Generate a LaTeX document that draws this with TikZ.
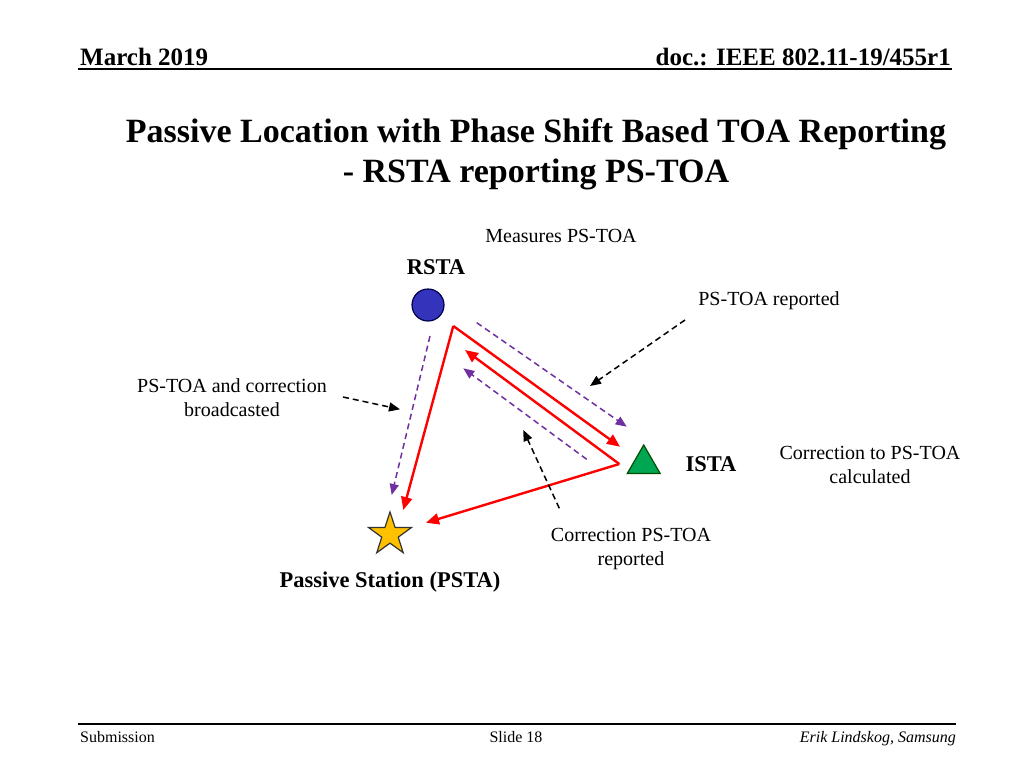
\documentclass[tikz,border=0pt]{standalone}
\usepackage{fontspec}
\setmainfont{Liberation Serif}
\usetikzlibrary{arrows.meta,shapes.geometric}
\definecolor{sigred}{HTML}{FF0000}
\definecolor{sigpurple}{HTML}{7030A0}
\definecolor{rstablue}{HTML}{3333BB}
\definecolor{istagreen}{HTML}{00A651}
\definecolor{pstagold}{HTML}{FFC000}
\begin{document}
\begin{tikzpicture}[x=1pt,y=-1pt,
  hdr/.style={font=\fontsize{25}{30}\selectfont\bfseries, inner sep=0pt},
  ttl/.style={font=\fontsize{34}{40}\selectfont\bfseries, align=center, inner sep=0pt},
  lbl/.style={font=\fontsize{20}{24}\selectfont, align=center, inner sep=0pt},
  blbl/.style={font=\fontsize{22.5}{27}\selectfont\bfseries, inner sep=0pt},
  ftr/.style={font=\fontsize{16}{19}\selectfont, inner sep=0pt},
  redarr/.style={draw=sigred, line width=2.4pt, -{Triangle[length=13pt,width=11pt]}},
  purarr/.style={draw=sigpurple, line width=1.5pt, dash pattern=on 6pt off 4pt, -{Triangle[length=11pt,width=9pt]}},
  blkarr/.style={draw=black, line width=1.5pt, dash pattern=on 6pt off 4pt, -{Triangle[length=11pt,width=9pt]}},
]
\useasboundingbox (0,0) rectangle (1024,768);
\fill[white] (0,0) rectangle (1024,768);
% header and footer
\node[hdr, anchor=west] (date) at (80,57) {March 2019};
\node[hdr, anchor=east] (doc) at (951,57) {doc.: IEEE 802.11-19/455r1};
\coordinate (hl) at (78,69); \coordinate (hr) at (952,69);
\draw[line width=1.5pt] (hl) -- (hr);
\coordinate (fl) at (78,724); \coordinate (fr) at (956,724);
\draw[line width=1.5pt] (fl) -- (fr);
\node[ftr, anchor=base west] (sub) at (80,742) {Submission};
\node[ftr, anchor=base] (slide) at (516,742) {Slide 18};
\node[ftr, anchor=base east, font=\fontsize{16}{19}\selectfont\itshape] (auth) at (956,742) {Erik Lindskog, Samsung};
% title
\node[ttl] (title) at (536,154) {Passive Location with Phase Shift Based TOA Reporting\\- RSTA reporting PS-TOA};
% stations
\node[circle, fill=rstablue, draw=black!70!blue, line width=1.2pt, minimum size=32pt, inner sep=0pt] (rsta) at (428,305) {};
\node[regular polygon, regular polygon sides=3, fill=istagreen, draw=black!70!green, line width=1.2pt, minimum size=38pt, inner sep=0pt] (ista) at (643.7,464) {};
\node[star, star points=5, star point ratio=2.6, fill=pstagold, draw=black!80, line width=1.2pt, minimum size=45pt, inner sep=0pt] (psta) at (390,534.5) {};
% labels
\node[lbl] (meas) at (561,236) {Measures PS-TOA};
\node[blbl] (rstal) at (436,267) {RSTA};
\node[blbl] (istal) at (711,464) {ISTA};
\node[blbl] (pstal) at (390,582) {Passive Station (PSTA)};
\node[lbl] (psrep) at (769,301) {PS-TOA reported};
\node[lbl] (bcast) at (232,398) {PS-TOA and correction\\broadcasted};
\node[lbl] (calc) at (870,465) {Correction to PS-TOA\\calculated};
\node[lbl] (correp) at (631,549) {Correction PS-TOA\\reported};
% signal coordinates
\coordinate (rc) at (453.3,326);
\coordinate (ic) at (619.3,464);
\coordinate (a1) at (620,446.7);
\coordinate (b1) at (465,350);
\coordinate (c1) at (426,522.7);
\coordinate (d1) at (403.3,510);
\draw[redarr] (rc) -- (a1);
\draw[redarr] (ic) -- (b1);
\draw[redarr] (ic) -- (c1);
\draw[redarr] (rc) -- (d1);
\coordinate (e0) at (430,336); \coordinate (e1) at (391.7,495);
\coordinate (f0) at (476.7,322.7); \coordinate (f1) at (626.7,426.7);
\coordinate (g0) at (586.7,459.3); \coordinate (g1) at (463.3,368.3);
\draw[purarr] (e0) -- (e1);
\draw[purarr] (f0) -- (f1);
\draw[purarr] (g0) -- (g1);
\coordinate (k0) at (685,320); \coordinate (k1) at (590,386);
\coordinate (m0) at (343,397); \coordinate (m1) at (400,409.3);
\coordinate (n0) at (559.3,508.3); \coordinate (n1) at (523.3,430);
\draw[blkarr] (k0) -- (k1);
\draw[blkarr] (m0) -- (m1);
\draw[blkarr] (n0) -- (n1);
\end{tikzpicture}
\end{document}
